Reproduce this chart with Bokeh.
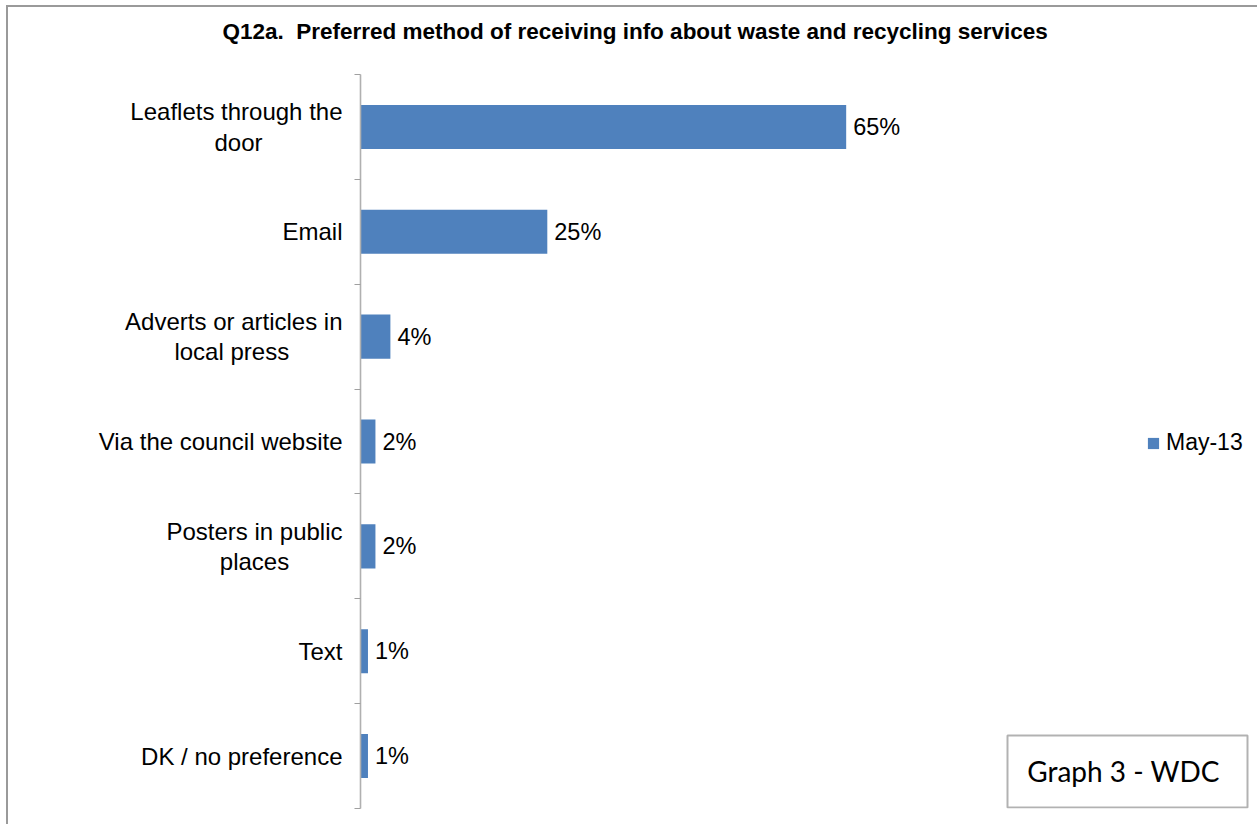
from bokeh.plotting import figure
from bokeh.models import (Range1d, FixedTicker, Label, LabelSet, ColumnDataSource,
                          BoxAnnotation, Legend, LegendItem, Title)
from bokeh.core.properties import value
from bokeh.embed import file_html
from bokeh.resources import INLINE

# ---- data ----
title_text = "Q12a.\u00a0 Preferred method of receiving info about waste and recycling services"
categories = [
    "Leaflets through the\ndoor",
    "Email",
    "Adverts or articles in\nlocal press",
    "Via the council website",
    "Posters in public\nplaces",
    "Text",
    "DK / no preference",
]
values = [65, 25, 4, 2, 2, 1, 1]
value_labels = ["65%", "25%", "4%", "2%", "2%", "1%", "1%"]
series_name = "May-13"
note_text = "Graph 3 - WDC"

# ---- layout constants (pixels) ----
W, H = 1257, 824
ML, MT = 360, 74
FRAME_BOTTOM = 808
MB = H - FRAME_BOTTOM
PX_PER_PCT = 7.472
PX_PER_ROW = (FRAME_BOTTOM - MT) / len(categories)
x_end = (W - ML) / PX_PER_PCT
# non-breaking-space padding so the second line of a wrapped label is centred
second_line_pad = {0: 12, 2: 8, 4: 8}

def px_to_x(page_x):
    return (page_x - ML) / PX_PER_PCT

def py_to_y(page_y):
    return (page_y - MT) / PX_PER_ROW

def axis_text(i, cat):
    lines = cat.split("\n")
    if len(lines) == 2:
        lines[1] = lines[1] + "\u00a0" * second_line_pad.get(i, 0)
    return "\n".join(lines)

FONT = "Liberation Sans"
BLUE = "#4F81BD"

p = figure(width=W, height=H, x_range=Range1d(0, x_end), y_range=Range1d(len(categories), 0),
           output_backend="svg", toolbar_location=None, x_axis_location=None,
           min_border_left=ML, min_border_right=0, min_border_top=MT, min_border_bottom=MB)
p.grid.visible = False
p.outline_line_color = None
p.background_fill_color = "white"
p.border_fill_color = None
p.styles = {
    "background": ("linear-gradient(#9a9a9a,#9a9a9a) 6px 5px / 1260px 2px no-repeat, "
                   "linear-gradient(#9a9a9a,#9a9a9a) 6px 5px / 2px 830px no-repeat, white"),
}

# y axis: labels at category centres, boundary ticks as minor ticks
centers = [i + 0.5 for i in range(len(categories))]
bounds = list(range(len(categories) + 1))
yax = p.yaxis[0]
yax.ticker = FixedTicker(ticks=centers, minor_ticks=bounds)
yax.major_label_overrides = {c: axis_text(i, lab) for i, (c, lab) in enumerate(zip(centers, categories))}
yax.major_tick_out = 0
yax.major_tick_in = 0
yax.minor_tick_out = 6
yax.minor_tick_in = 0
yax.major_label_standoff = 12
yax.major_label_text_font = FONT
yax.major_label_text_font_size = "24px"
yax.major_label_text_line_height = 1.12
yax.major_label_text_color = "black"
yax.axis_line_color = "#b0b0b0"
yax.axis_line_width = 1.6
yax.minor_tick_line_color = "#a0a0a0"
yax.minor_tick_line_width = 1.2

source = ColumnDataSource(dict(y=centers, value=values, label=value_labels))
bars = p.hbar(y="y", left=0, right="value", height=0.42, source=source,
              fill_color=BLUE, line_color=None)

p.add_layout(LabelSet(x="value", y="y", text="label", x_offset=7, source=source,
                      text_baseline="middle", text_align="left",
                      text_font=value(FONT), text_font_size="23.5px", text_color="black"))

# title (trailing blank line lifts it towards the top of the chart area)
p.add_layout(Title(text=title_text + "\n", align="left", offset=-138, text_font=FONT,
                   text_font_size="22.5px", text_font_style="bold", text_color="black",
                   text_line_height=1.0, vertical_align="top", standoff=8), "above")

# legend
legend = Legend(items=[LegendItem(label=series_name, renderers=[bars])],
                location=(786, 352), padding=0, margin=0, spacing=0,
                glyph_width=14, glyph_height=14, label_standoff=6,
                label_text_font=FONT, label_text_font_size="23px", label_height=14,
                label_text_color="black",
                border_line_color=None, background_fill_alpha=0)
p.add_layout(legend)

# note box
p.add_layout(BoxAnnotation(left=px_to_x(1007), right=px_to_x(1247), top=py_to_y(735),
                           bottom=py_to_y(807), fill_color=None, line_color="black",
                           line_width=2))
p.add_layout(Label(x=px_to_x(1123), y=py_to_y(770), text=note_text, text_align="center",
                   text_baseline="middle", text_font="Lato", text_font_size="28px",
                   text_color="black"))

open("out.html", "w").write(file_html(p, INLINE))
